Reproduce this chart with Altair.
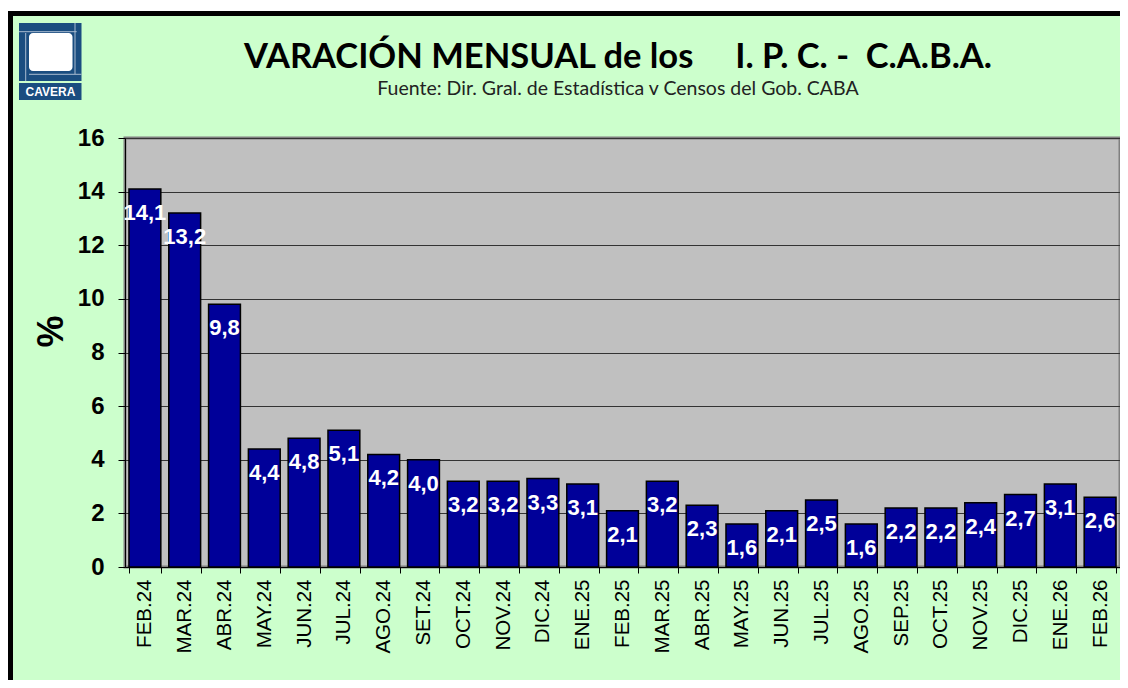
import altair as alt
import pandas as pd

months = ["FEB.24", "MAR.24", "ABR.24", "MAY.24", "JUN.24", "JUL.24", "AGO.24", "SET.24",
          "OCT.24", "NOV.24", "DIC.24", "ENE.25", "FEB.25", "MAR.25", "ABR.25", "MAY.25",
          "JUN.25", "JUL.25", "AGO.25", "SEP.25", "OCT.25", "NOV.25", "DIC.25", "ENE.26", "FEB.26"]
values = [14.1, 13.2, 9.8, 4.4, 4.8, 5.1, 4.2, 4.0,
          3.2, 3.2, 3.3, 3.1, 2.1, 3.2, 2.3, 1.6,
          2.1, 2.5, 1.6, 2.2, 2.2, 2.4, 2.7, 3.1, 2.6]
y_ticks = [0, 2, 4, 6, 8, 10, 12, 14, 16]

title_text = "VARACIÓN MENSUAL de los\u00a0\u00a0\u00a0\u00a0 I. P. C. -\u00a0 C.A.B.A."
subtitle_text = "Fuente: Dir. Gral. de Estadística v Censos del Gob. CABA"

df = pd.DataFrame({
    "mes": months,
    "valor": values,
    "etiqueta": [f"{v:.1f}".replace(".", ",") for v in values],
})

W, H = 995, 429

x_enc = alt.X("mes:N", sort=months, title=None,
              scale=alt.Scale(paddingInner=0.2, paddingOuter=0.1),
              axis=alt.Axis(labelAngle=-90, labelFont="Liberation Sans", labelFontSize=20.5,
                            labelColor="black", tickBand="extent", tickSize=6,
                            tickColor="black", domainColor="black", labelPadding=6,
                            grid=False))
y_enc = alt.Y("valor:Q", title="%",
              scale=alt.Scale(domain=[0, 16], nice=False),
              axis=alt.Axis(values=y_ticks, labelFont="Liberation Sans", labelFontSize=24,
                            labelFontWeight="bold", labelColor="black", tickSize=7,
                            tickColor="black", domainColor="black", labelPadding=14,
                            gridColor="#333333", gridWidth=1,
                            titleFont="Liberation Sans", titleFontSize=36,
                            titleFontWeight="bold", titleColor="black",
                            titleAngle=270, titleAlign="center", titleBaseline="alphabetic",
                            titleX=-63, titleY=193))

base = alt.Chart(df)
bars = base.mark_bar(color="#000099", stroke="black", strokeWidth=1.5).encode(x=x_enc, y=y_enc)
labels = base.mark_text(color="white", font="Liberation Sans", fontSize=22, fontWeight="bold",
                        baseline="middle", dy=24).encode(
    x=alt.X("mes:N", sort=months), y=alt.Y("valor:Q"), text="etiqueta:N")

one = alt.Data(values=[{}])

def rect(x, x2, y, y2, color, **kw):
    return alt.Chart(one).mark_rect(color=color, **kw).encode(
        x=alt.value(x), x2=alt.value(x2), y=alt.value(y), y2=alt.value(y2))

def rule(x, x2, y, y2, color, w):
    return alt.Chart(one).mark_rule(color=color, strokeWidth=w).encode(
        x=alt.value(x), x2=alt.value(x2), y=alt.value(y), y2=alt.value(y2))

def text(t, x, y, **kw):
    return alt.Chart(one).mark_text(text=t, align="center", **kw).encode(
        x=alt.value(x), y=alt.value(y))

# frame of the picture
frame_white = rect(-118, 1000, -131, -127, "white")
frame_top = rect(-118, 1000, -127, -122, "black")
frame_left = rect(-118, -112, -127, 545, "black")

# CAVERA logo
logo_blue = rect(-106, -43.5, -115, -57, "#1A4D80")
logo_band = rect(-106, -43.5, -55, -38, "#1A4D80")
logo_white = rect(-96, -52.5, -105, -67, "white", cornerRadius=4)
l1 = rule(-99.3, -99.3, -105, -57, "#A9BCD0", 1)
l2 = rule(-106, -48.3, -106.3, -106.3, "#A9BCD0", 1)
l3 = rule(-50, -50, -115, -64, "#A9BCD0", 1)
l4 = rule(-96, -43.5, -63.7, -63.7, "#A9BCD0", 1)
logo_text = text("CAVERA", -74.5, -46.5, color="white", font="Liberation Sans",
                 fontSize=12, fontWeight="bold", baseline="middle")

# titles
title_mark = text(title_text, 493, -70, color="black", font="Lato", fontSize=34.5,
                  fontWeight="bold", baseline="alphabetic")
subtitle_mark = text(subtitle_text, 493, -43, color="#222222", font="Lato", fontSize=19.5,
                     baseline="alphabetic")

chart = alt.layer(
    bars, labels, frame_white, frame_top, frame_left,
    logo_blue, logo_band, logo_white, l1, l2, l3, l4, logo_text,
    title_mark, subtitle_mark
).properties(
    width=W, height=H,
    autosize=alt.AutoSizeParams(type="none"),
    padding={"left": 117, "top": 130, "right": 0, "bottom": 113},
).configure(background="#CCFFCC").configure_view(
    fill="#C0C0C0", stroke="#808080", strokeWidth=3
)

chart.save("out.html", embed_options={"renderer": "svg", "actions": False})
